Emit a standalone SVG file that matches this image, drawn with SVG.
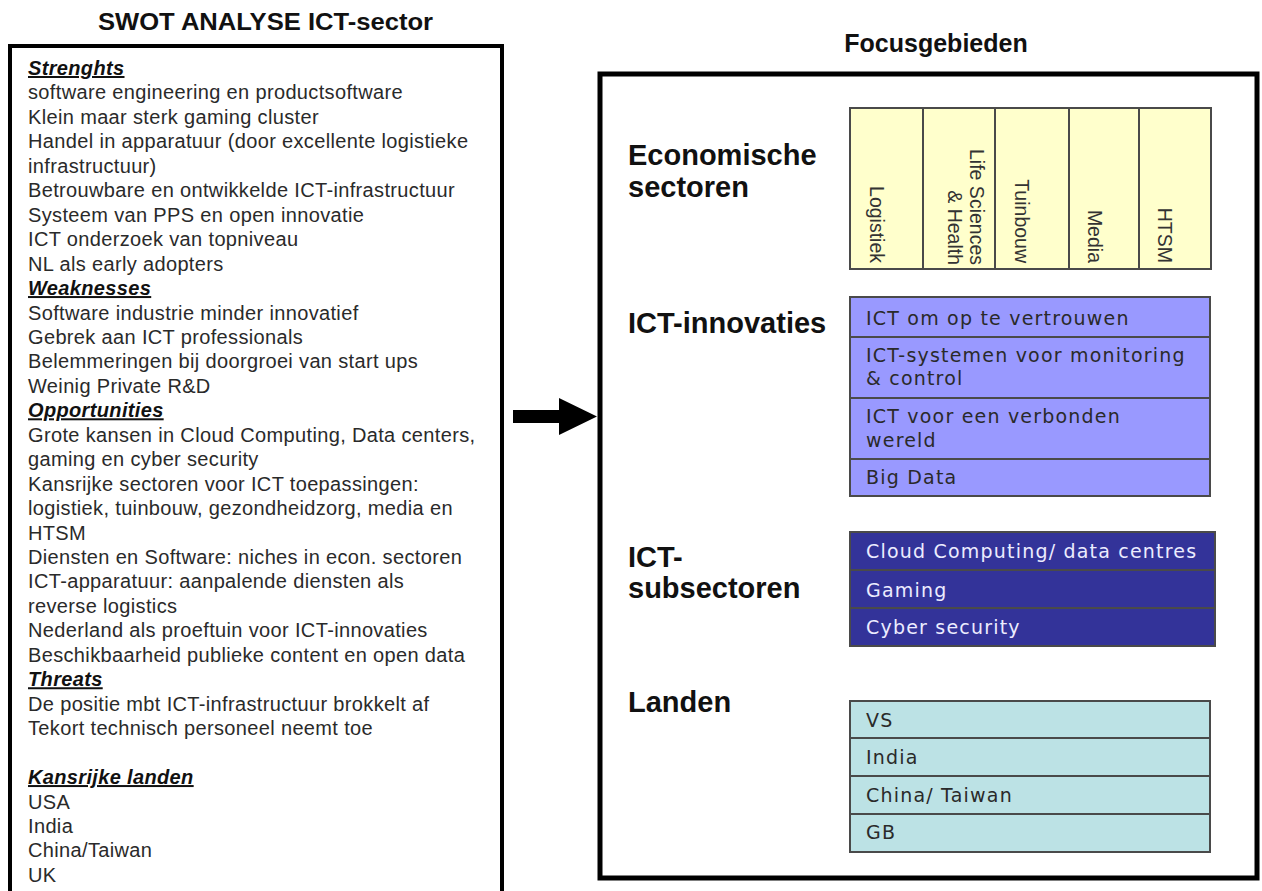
<svg xmlns="http://www.w3.org/2000/svg" width="1262" height="891" viewBox="0 0 1262 891">
<style>
.title{font-family:"Liberation Sans",Arial,sans-serif;font-weight:bold;fill:#111}
.body{font-family:"Liberation Sans",Arial,sans-serif;font-size:20px;letter-spacing:0.35px;fill:#2a2a2a}
.h{font-weight:bold;font-style:italic;text-decoration:underline;fill:#111}
.lbl{font-family:"Liberation Sans",Arial,sans-serif;font-weight:bold;font-size:29px;fill:#111}
.cell{stroke:#4a4a4a;stroke-width:2}
.vt{font-family:"Liberation Sans",Arial,sans-serif;font-size:19.5px;fill:#333}
.bt{font-family:"DejaVu Sans",Verdana,sans-serif;font-size:19px;letter-spacing:1.2px;fill:#2a2a2a}
.bw{font-family:"DejaVu Sans",Verdana,sans-serif;font-size:19px;letter-spacing:1.2px;fill:#ececff}
.frame{fill:#fff;stroke:#000}
</style>
<rect width="1262" height="891" fill="#fff"/>

<g id="swot">
<text class="title" x="98" y="30" font-size="23" textLength="335" lengthAdjust="spacingAndGlyphs">SWOT ANALYSE ICT-sector</text>
<path d="M10 895 V46 H502 V895" class="frame" stroke-width="4"/>
<text class="body">
<tspan x="28" y="75" class="h">Strenghts</tspan>
<tspan x="28" y="99.45">software engineering en productsoftware</tspan>
<tspan x="28" y="123.9">Klein maar sterk gaming cluster</tspan>
<tspan x="28" y="148.35">Handel in apparatuur (door excellente logistieke</tspan>
<tspan x="28" y="172.8">infrastructuur)</tspan>
<tspan x="28" y="197.25">Betrouwbare en ontwikkelde ICT-infrastructuur</tspan>
<tspan x="28" y="221.7">Systeem van PPS en open innovatie</tspan>
<tspan x="28" y="246.15">ICT onderzoek van topniveau</tspan>
<tspan x="28" y="270.6">NL als early adopters</tspan>
<tspan x="28" y="295.05" class="h">Weaknesses</tspan>
<tspan x="28" y="319.5">Software industrie minder innovatief</tspan>
<tspan x="28" y="343.95">Gebrek aan ICT professionals</tspan>
<tspan x="28" y="368.4">Belemmeringen bij doorgroei van start ups</tspan>
<tspan x="28" y="392.85">Weinig Private R&amp;D</tspan>
<tspan x="28" y="417.3" class="h">Opportunities</tspan>
<tspan x="28" y="441.75">Grote kansen in Cloud Computing, Data centers,</tspan>
<tspan x="28" y="466.2">gaming en cyber security</tspan>
<tspan x="28" y="490.65">Kansrijke sectoren voor ICT toepassingen:</tspan>
<tspan x="28" y="515.1">logistiek, tuinbouw, gezondheidzorg, media en</tspan>
<tspan x="28" y="539.55">HTSM</tspan>
<tspan x="28" y="564">Diensten en Software: niches in econ. sectoren</tspan>
<tspan x="28" y="588.45">ICT-apparatuur: aanpalende diensten als</tspan>
<tspan x="28" y="612.9">reverse logistics</tspan>
<tspan x="28" y="637.35">Nederland als proeftuin voor ICT-innovaties</tspan>
<tspan x="28" y="661.8">Beschikbaarheid publieke content en open data</tspan>
<tspan x="28" y="686.25" class="h">Threats</tspan>
<tspan x="28" y="710.7">De positie mbt ICT-infrastructuur brokkelt af</tspan>
<tspan x="28" y="735.15">Tekort technisch personeel neemt toe</tspan>
<tspan x="28" y="784.05" class="h">Kansrijke landen</tspan>
<tspan x="28" y="808.5">USA</tspan>
<tspan x="28" y="832.95">India</tspan>
<tspan x="28" y="857.4">China/Taiwan</tspan>
<tspan x="28" y="881.85">UK</tspan>
</text>
</g>

<g id="connectors">
<polygon points="513,410 559,410 559,398 597,416.5 559,435 559,423 513,423" fill="#000"/>
</g>

<g id="focus">
<text class="title" x="936" y="52" font-size="25" text-anchor="middle">Focusgebieden</text>
<rect x="600" y="74" width="657" height="804" class="frame" stroke-width="5"/>
</g>

<g id="economische">
<text class="lbl" x="628" y="165">Economische</text>
<text class="lbl" x="628" y="197">sectoren</text>
<rect x="850" y="108" width="361" height="161" fill="#ffffcc" class="cell"/>
<line x1="923" y1="108" x2="923" y2="269" class="cell"/>
<line x1="995" y1="108" x2="995" y2="269" class="cell"/>
<line x1="1069" y1="108" x2="1069" y2="269" class="cell"/>
<line x1="1139" y1="108" x2="1139" y2="269" class="cell"/>
<text class="vt" transform="translate(870,263) rotate(90)" text-anchor="end">Logistiek</text>
<text class="vt" transform="translate(970,265) rotate(90)" text-anchor="end">Life Sciences</text>
<text class="vt" transform="translate(948,265) rotate(90)" text-anchor="end">&amp; Health</text>
<text class="vt" transform="translate(1015,263) rotate(90)" text-anchor="end">Tuinbouw</text>
<text class="vt" transform="translate(1088,263) rotate(90)" text-anchor="end">Media</text>
<text class="vt" transform="translate(1158,263) rotate(90)" text-anchor="end">HTSM</text>
</g>

<g id="innovaties">
<text class="lbl" x="628" y="333">ICT-innovaties</text>
<rect x="850" y="297" width="360" height="40" fill="#9999ff" class="cell"/>
<rect x="850" y="337" width="360" height="61" fill="#9999ff" class="cell"/>
<rect x="850" y="398" width="360" height="61" fill="#9999ff" class="cell"/>
<rect x="850" y="459" width="360" height="37" fill="#9999ff" class="cell"/>
<text class="bt" x="866" y="325">ICT om op te vertrouwen</text>
<text class="bt" x="866" y="362">ICT-systemen voor monitoring</text>
<text class="bt" x="866" y="385">&amp; control</text>
<text class="bt" x="866" y="423">ICT voor een verbonden</text>
<text class="bt" x="866" y="447">wereld</text>
<text class="bt" x="866" y="484">Big Data</text>
</g>

<g id="subsectoren">
<text class="lbl" x="628" y="567">ICT-</text>
<text class="lbl" x="628" y="598">subsectoren</text>
<rect x="850" y="532" width="365" height="38" fill="#333399" class="cell"/>
<rect x="850" y="570" width="365" height="38" fill="#333399" class="cell"/>
<rect x="850" y="608" width="365" height="38" fill="#333399" class="cell"/>
<text class="bw" x="866" y="558">Cloud Computing/ data centres</text>
<text class="bw" x="866" y="597">Gaming</text>
<text class="bw" x="866" y="634">Cyber security</text>
</g>

<g id="landen">
<text class="lbl" x="628" y="712">Landen</text>
<rect x="850" y="701" width="360" height="37" fill="#bce2e5" class="cell"/>
<rect x="850" y="738" width="360" height="38" fill="#bce2e5" class="cell"/>
<rect x="850" y="776" width="360" height="38" fill="#bce2e5" class="cell"/>
<rect x="850" y="814" width="360" height="38" fill="#bce2e5" class="cell"/>
<text class="bt" x="866" y="727">VS</text>
<text class="bt" x="866" y="764">India</text>
<text class="bt" x="866" y="802">China/ Taiwan</text>
<text class="bt" x="866" y="839">GB</text>
</g>
</svg>
